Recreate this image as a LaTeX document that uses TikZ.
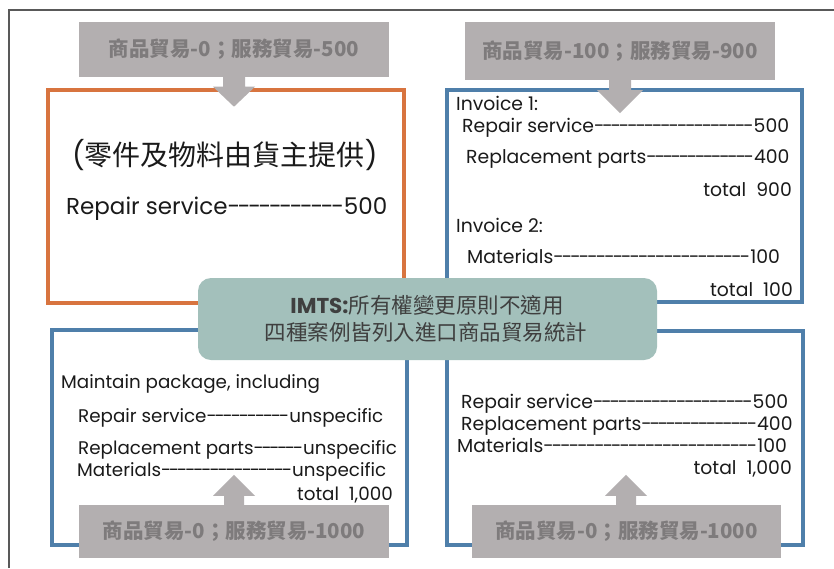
\documentclass[tikz,border=0pt]{standalone}
\usepackage{fontspec}
\setmainfont{Poppins}[Ligatures=TeXOff]
\newfontfamily\cjk{Noto Sans CJK TC}[Ligatures=TeXOff]
\newcommand\dsh[1]{{\addfontfeature{LetterSpace=-11}#1}}
\newcommand\dshb[1]{{\addfontfeature{LetterSpace=-12}#1}}
\newcommand\dshw[1]{{\addfontfeature{LetterSpace=-10}#1}}
\definecolor{framegray}{HTML}{595959}
\definecolor{orangeC}{HTML}{D8743F}
\definecolor{blueC}{HTML}{4F7FAA}
\definecolor{tealC}{HTML}{A3C0BB}
\definecolor{callC}{HTML}{B3AFB0}
\definecolor{calltext}{HTML}{7E7B7C}
\definecolor{tealtext}{HTML}{3F3F3F}
\definecolor{bodytext}{HTML}{1A1A1A}
\tikzset{
  x=1pt, y=-1pt,
  panel/.style={draw=#1, line width=3.2pt, fill=white, inner sep=0pt, rectangle},
  callbox/.style={fill=callC, inner sep=0pt, text=calltext, font=\cjk\bfseries\fontsize{20.5}{23}\selectfont},
  callarrow/.style={fill=callC},
  tx/.style={inner sep=0pt, text=bodytext},
  txr/.style={tx, font=\fontsize{18.8}{21}\selectfont},
  txl/.style={tx, font=\fontsize{18.3}{21}\selectfont},
}
\begin{document}
\begin{tikzpicture}
\useasboundingbox (0,0) rectangle (834,568);
\fill[white] (0,0) rectangle (834,568);
% outer frame
\coordinate (fbl) at (9,568);
\coordinate (ftl) at (9,9.5);
\coordinate (ftr) at (834,9.5);
\draw[framegray, line width=2pt] (fbl) -- (ftl) -- (ftr);

% panels
\node[panel=orangeC, minimum width=356pt, minimum height=213pt] (p1) at (226,196.5) {};
\node[panel=blueC, minimum width=355pt, minimum height=212pt] (p2) at (624.5,196) {};
\node[panel=blueC, minimum width=355pt, minimum height=215pt] (p3) at (229.5,437.5) {};
\node[panel=blueC, minimum width=356pt, minimum height=214pt] (p4) at (625,438) {};

% callouts
\node[callbox, minimum width=310pt, minimum height=55pt] (c1) at (234,49.5) {商品貿易-0；服務貿易-500};
\node[callbox, minimum width=310pt, minimum height=58pt] (c2) at (620,51) {商品貿易-100；服務貿易-900};
\node[callbox, minimum width=310pt, minimum height=53pt] (c3) at (234,531.5) {商品貿易-0；服務貿易-1000};
\node[callbox, minimum width=309pt, minimum height=53pt] (c4) at (626.5,531.5) {商品貿易-0；服務貿易-1000};

\fill[callarrow] ([xshift=-11pt]c1.south) -- ++(0,9.5) -- ++(-10,0) -- ++(21,20) -- ++(21,-20) -- ++(-10,0) -- ++(0,-9.5) -- cycle;
\fill[callarrow] ([xshift=-11pt]c2.south) -- ++(0,10) -- ++(-12,0) -- ++(23,23) -- ++(23,-23) -- ++(-12,0) -- ++(0,-10) -- cycle;
\fill[callarrow] ([xshift=-10pt]c3.north) -- ++(0,-9) -- ++(-11,0) -- ++(21,-21) -- ++(21,21) -- ++(-11,0) -- ++(0,9) -- cycle;
\fill[callarrow] ([xshift=-10.5pt]c4.north) -- ++(0,-9) -- ++(-11,0) -- ++(21,-21) -- ++(21,21) -- ++(-11,0) -- ++(0,9) -- cycle;

% panel 1 text
\node[tx, anchor=west, font=\fontsize{28}{30}\selectfont] (a1) at (72,155) {({\cjk 零件及物料由貨主提供})};
\node[tx, anchor=base west, font=\fontsize{23}{26}\selectfont] (a2) at (66,214) {Repair service\dshw{-----------}500};

% panel 2 text
\node[txr, anchor=base west] (b1) at (456,110) {Invoice 1:};
\node[txr, anchor=base west] (b2) at (462,132) {Repair service\dsh{-------------------}500};
\node[txr, anchor=base west] (b3) at (466,163) {Replacement parts\dshb{-------------}400};
\node[txr, anchor=base east] (b4) at (792,196) {total\ \ 900};
\node[txr, anchor=base west] (b5) at (456,232) {Invoice 2:};
\node[txr, anchor=base west] (b6) at (467,263) {Materials\dshw{-----------------------}100};
\node[txr, anchor=base east] (b7) at (793,296) {total\ \ 100};

% panel 3 text
\node[txl, anchor=base west] (d1) at (61,388) {Maintain package, including};
\node[txl, anchor=base west] (d2) at (78,422) {Repair service\dsh{----------}unspecific};
\node[txl, anchor=base west] (d3) at (78,454) {Replacement parts\dshb{------}unspecific};
\node[txl, anchor=base west] (d4) at (77,476) {Materials\dsh{----------------}unspecific};
\node[txl, anchor=base east] (d5) at (393,500) {total\ \ 1,000};

% panel 4 text
\node[txr, anchor=base west] (e1) at (461,408) {Repair service\dsh{-------------------}500};
\node[txr, anchor=base west] (e2) at (461,430) {Replacement parts\dshb{--------------}400};
\node[txr, anchor=base west] (e3) at (457,452) {Materials\dshw{-------------------------}100};
\node[txr, anchor=base east] (e4) at (792,474) {total\ \ 1,000};

% center teal box
\node[fill=tealC, rounded corners=13pt, minimum width=459pt, minimum height=82pt, inner sep=0pt] (m) at (427.5,319) {};
\node[inner sep=0pt, text=tealtext, font=\fontsize{21.5}{24}\selectfont] (m1) at (427,305) {\textbf{IMTS:}{\cjk 所有權變更原則不適用}};
\node[inner sep=0pt, text=tealtext, font=\cjk\fontsize{21.5}{24}\selectfont] (m2) at (426,332) {四種案例皆列入進口商品貿易統計};
\end{tikzpicture}
\end{document}
